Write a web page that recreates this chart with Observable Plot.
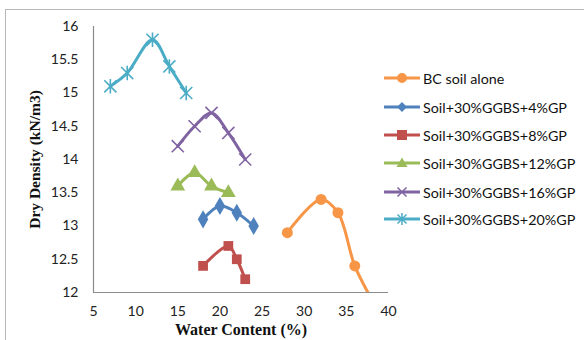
<!DOCTYPE html>
<html><head><meta charset="utf-8">
<script src="https://cdn.jsdelivr.net/npm/d3@7"></script>
<script src="https://cdn.jsdelivr.net/npm/@observablehq/plot@0.6"></script>
<style>
html,body{margin:0;padding:0;background:#fff;overflow:hidden;}
#wrap{position:relative;width:584px;height:340px;overflow:hidden;}
#frame{position:absolute;left:5px;top:9px;width:600px;height:360px;border:1px solid #b8b8b8;box-sizing:border-box;}
#chart{position:absolute;left:0;top:0;}
#legend{position:absolute;left:384px;top:64px;font-family:Lato,"Open Sans",sans-serif;font-size:14.3px;color:#111;}
.item{position:absolute;left:0;height:20px;display:flex;align-items:center;white-space:nowrap;}
.item svg{margin-right:3px;}
</style></head>
<body>
<div id="wrap"><div id="frame"></div><div id="chart"></div><div id="legend"></div></div>
<script>
const seriesNames = ["BC soil alone","Soil+30%GGBS+4%GP","Soil+30%GGBS+8%GP","Soil+30%GGBS+12%GP","Soil+30%GGBS+16%GP","Soil+30%GGBS+20%GP"];
const seriesColors = ["#F79646","#4F81BD","#C0504D","#9BBB59","#8064A2","#4BACC6"];
const seriesSymbols = ["circle","diamond","square","triangle","times","star"];

const waterBC = [28,32,34,36,38];
const densityBC = [12.9,13.4,13.2,12.4,11.9];
const water4 = [18,20,22,24];
const density4 = [13.1,13.3,13.2,13.0];
const water8 = [18,21,22,23];
const density8 = [12.4,12.7,12.5,12.2];
const water12 = [15,17,19,21];
const density12 = [13.6,13.8,13.6,13.5];
const water16 = [15,17,19,21,23];
const density16 = [14.2,14.5,14.7,14.4,14.0];
const water20 = [7,9,12,14,16];
const density20 = [15.1,15.3,15.8,15.4,15.0];

const xTicks = [5,10,15,20,25,30,35,40];
const yTicks = [12,12.5,13,13.5,14,14.5,15,15.5,16];

const waters = [waterBC,water4,water8,water12,water16,water20];
const densities = [densityBC,density4,density8,density12,density16,density20];

const rows = [];
waters.forEach((ws,i)=>ws.forEach((w,j)=>rows.push({series:seriesNames[i],w,d:densities[i][j],idx:i})));

const starSymbol = {draw(ctx,size){const r=Math.sqrt(size/Math.PI)*1.1;ctx.moveTo(-r,-r);ctx.lineTo(r,r);ctx.moveTo(-r,r);ctx.lineTo(r,-r);ctx.moveTo(0,-r*1.2);ctx.lineTo(0,r*1.2);}};
const timesSymbol = {draw(ctx,size){const r=Math.sqrt(size/Math.PI)*1.1;ctx.moveTo(-r,-r);ctx.lineTo(r,r);ctx.moveTo(-r,r);ctx.lineTo(r,-r);}};

const dotMarks = seriesNames.map((name,i)=>{
  const data = rows.filter(r=>r.idx===i && r.d>=12);
  const col = seriesColors[i];
  const sym = seriesSymbols[i];
  if (sym==="times") return Plot.dot(data,{x:"w",y:"d",symbol:()=>timesSymbol,r:5.5,stroke:col,strokeWidth:1.6,fill:"none"});
  if (sym==="star") return Plot.dot(data,{x:"w",y:"d",symbol:()=>starSymbol,r:5.5,stroke:col,strokeWidth:1.6,fill:"none"});
  return Plot.dot(data,{x:"w",y:"d",symbol:()=>sym,r:5.5,fill:col,stroke:"none"});
});

const lineMarks = seriesNames.map((name,i)=>Plot.line(rows.filter(r=>r.idx===i),{x:"w",y:"d",stroke:seriesColors[i],strokeWidth:3,curve:"catmull-rom",clip:true}));

const plot = Plot.plot({
  width:584, height:340,
  marginLeft:93, marginRight:196, marginTop:26, marginBottom:48,
  style:{fontFamily:"Lato, 'Open Sans', sans-serif",fontSize:"14px",color:"#222",background:"transparent"},
  x:{domain:[5,40]},
  y:{domain:[12,16]},
  marks:[
    Plot.axisX({ticks:xTicks,tickSize:0,tickPadding:14,label:null,tickFormat:d=>String(d)}),
    Plot.axisY({ticks:yTicks,tickSize:0,tickPadding:15,label:null,tickFormat:d=>String(d)}),
    Plot.ruleX([5],{stroke:"#8c8c8c",strokeWidth:1.2}),
    Plot.ruleY([12],{stroke:"#8c8c8c",strokeWidth:1.2}),
    ...lineMarks,
    ...dotMarks,
    Plot.text(["Dry Density (kN/m3)"],{frameAnchor:"left",textAnchor:"middle",dx:-58,rotate:-90,fontFamily:"'Liberation Serif', serif",fontWeight:"bold",fontSize:15.5,fill:"#111"}),
    Plot.text(["Water Content (%)"],{frameAnchor:"bottom",textAnchor:"middle",dy:42,fontFamily:"'Liberation Serif', serif",fontWeight:"bold",fontSize:16,fill:"#111"})
  ]
});
document.getElementById("chart").appendChild(plot);

const leg = document.getElementById("legend");
const legendTops = [78,107,135,163,192,219];
seriesNames.forEach((name,i)=>{
  const col = seriesColors[i];
  let marker = "";
  const s = seriesSymbols[i];
  if (s==="circle") marker = `<circle cx="18" cy="10" r="5" fill="${col}"/>`;
  else if (s==="diamond") marker = `<path d="M18 5 L23 10 L18 15 L13 10Z" fill="${col}"/>`;
  else if (s==="square") marker = `<rect x="13" y="5" width="10" height="10" fill="${col}"/>`;
  else if (s==="triangle") marker = `<path d="M18 4.5 L23.5 14 L12.5 14Z" fill="${col}"/>`;
  else if (s==="times") marker = `<path d="M13.5 5.5 L22.5 14.5 M13.5 14.5 L22.5 5.5" stroke="${col}" stroke-width="1.5"/>`;
  else marker = `<path d="M13.5 5.5 L22.5 14.5 M13.5 14.5 L22.5 5.5 M18 4 L18 16" stroke="${col}" stroke-width="1.5"/>`;
  const div = document.createElement("div");
  div.className="item";
  div.style.top = (legendTops[i]-64-10)+"px";
  div.innerHTML = `<svg width="36" height="20"><line x1="0" y1="10" x2="36" y2="10" stroke="${col}" stroke-width="3"/>${marker}</svg><span>${name}</span>`;
  leg.appendChild(div);
});
</script>
</body></html>
